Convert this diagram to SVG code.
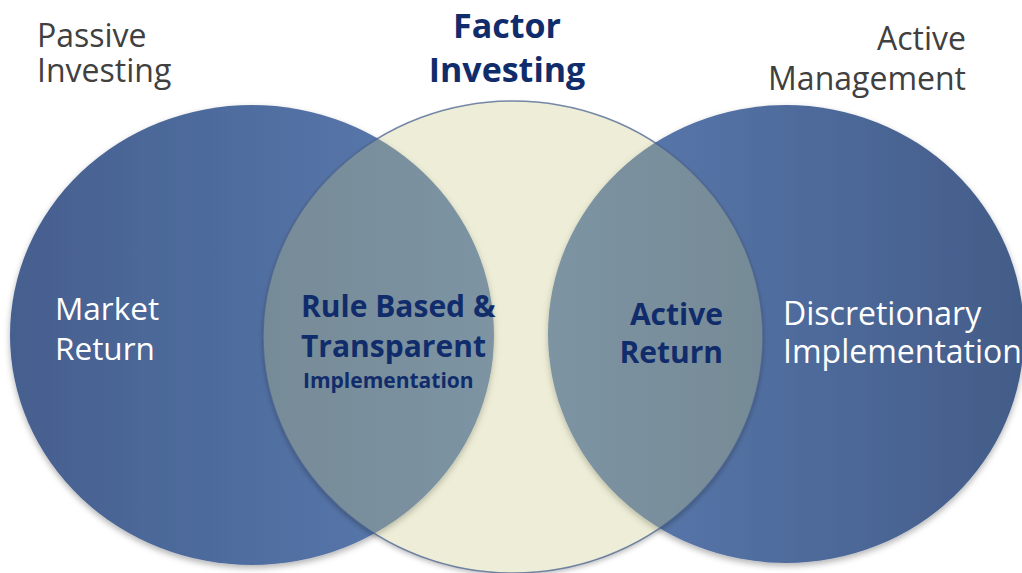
<svg xmlns="http://www.w3.org/2000/svg" width="1022" height="573" viewBox="0 0 1022 573">
  <defs>
    <linearGradient id="gLeft" x1="0" y1="0" x2="1" y2="0">
      <stop offset="0" stop-color="#455f8e"/>
      <stop offset="1" stop-color="#5b7cb2"/>
    </linearGradient>
    <linearGradient id="gRight" x1="0" y1="0" x2="1" y2="0">
      <stop offset="0" stop-color="#5b7cb2"/>
      <stop offset="1" stop-color="#435c88"/>
    </linearGradient>
    <filter id="shadow" x="-10%" y="-10%" width="120%" height="125%">
      <feDropShadow dx="0" dy="3" stdDeviation="3" flood-color="#000" flood-opacity="0.3"/>
    </filter>
    <filter id="soft" x="-10%" y="-10%" width="120%" height="125%">
      <feGaussianBlur stdDeviation="2.5"/>
    </filter>
    <clipPath id="outsideMid">
      <path clip-rule="evenodd" d="M0 0H1022V573H0Z M263 337a250 236 0 1 0 500 0a250 236 0 1 0 -500 0Z"/>
    </clipPath>
    <style>
      .title { font-family: "Open Sans", "Noto Sans", sans-serif; font-size: 32px; fill: #404040; }
      .factor { font-family: "Open Sans", "Noto Sans", sans-serif; font-size: 34px; font-weight: bold; fill: #112c6b; }
      .inner { font-family: "Open Sans", "Noto Sans", sans-serif; font-size: 31.5px; fill: #ffffff; }
      .inner2 { font-family: "Open Sans", "Noto Sans", sans-serif; font-size: 32px; fill: #ffffff; }
      .bold { font-family: "Open Sans", "Noto Sans", sans-serif; font-size: 30px; font-weight: bold; fill: #112c6b; }
      .small { font-family: "Open Sans", "Noto Sans", sans-serif; font-size: 21px; font-weight: bold; fill: #112c6b; }
    </style>
  </defs>
  <rect width="1022" height="573" fill="#ffffff"/>

  <g id="passive">
    <ellipse cx="252" cy="335" rx="242" ry="230" fill="url(#gLeft)" filter="url(#shadow)"/>
  </g>
  <g id="active">
    <ellipse cx="786" cy="334" rx="238" ry="229" fill="url(#gRight)" filter="url(#shadow)"/>
  </g>
  <g id="factor">
    <g clip-path="url(#outsideMid)">
      <ellipse cx="513" cy="340" rx="250" ry="236" fill="#000" fill-opacity="0.25" filter="url(#soft)"/>
    </g>
    <ellipse cx="513" cy="337" rx="250" ry="236" fill="#c9c983" fill-opacity="0.315"/>
    <ellipse cx="513" cy="337" rx="250" ry="236" fill="none" stroke="#4a6390" stroke-width="1.5" stroke-opacity="0.75"/>
  </g>

  <g id="labels-top">
    <text class="title" x="37" y="47">Passive</text>
    <text class="title" x="37" y="82">Investing</text>
    <text class="factor" x="507" y="38" text-anchor="middle">Factor</text>
    <text class="factor" x="507" y="82" text-anchor="middle">Investing</text>
    <text class="title" x="966" y="50" text-anchor="end">Active</text>
    <text class="title" x="966" y="90" text-anchor="end">Management</text>
  </g>

  <g id="label-market">
    <text class="inner" x="55" y="320">Market</text>
    <text class="inner" x="55" y="360">Return</text>
  </g>
  <g id="label-rule">
    <text class="bold" x="301" y="317">Rule Based &amp;</text>
    <text class="bold" x="301" y="357">Transparent</text>
    <text class="small" x="303" y="388">Implementation</text>
  </g>
  <g id="label-activereturn">
    <text class="bold" x="723" y="325" text-anchor="end">Active</text>
    <text class="bold" x="723" y="363" text-anchor="end">Return</text>
  </g>
  <g id="label-discretionary">
    <text class="inner2" x="783" y="325">Discretionary</text>
    <text class="inner2" x="783" y="363">Implementation</text>
  </g>
</svg>
